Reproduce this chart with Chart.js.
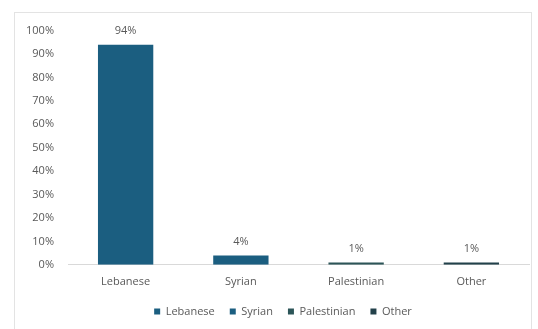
<!DOCTYPE html>
<html><head><meta charset="utf-8">
<script src="https://cdn.jsdelivr.net/npm/chart.js@4/dist/chart.umd.min.js"></script>
<style>
html,body{margin:0;padding:0;background:#fff;}
#frame{position:absolute;left:14px;top:12px;width:518px;height:320px;border:1px solid #e3e3e3;box-sizing:border-box;background:#fff;}
#wrap{position:absolute;left:0;top:-3px;width:516px;height:321px;}
</style></head>
<body>
<div id="frame"><div id="wrap"><canvas id="c"></canvas></div></div>
<script>
const categories = ["Lebanese","Syrian","Palestinian","Other"];
const values = [94, 4, 1, 1];
const yTicks = [0,10,20,30,40,50,60,70,80,90,100];
const colors = ["#1b5e80","#1b5e80","#2c5558","#22414a"];

const font = "'Open Sans', 'Noto Sans', sans-serif";

const labelPlugin = {
  id:'vlabels',
  afterLayout(chart){
    if (chart.legend){ chart.legend.left += 11; chart.legend.right += 11; }
  },
  afterDatasetsDraw(chart){
    const ctx = chart.ctx;
    const meta = chart.getDatasetMeta(0);
    ctx.save();
    ctx.font = "11px " + font;
    ctx.fillStyle = "#595959";
    ctx.textAlign = "center";
    ctx.textBaseline = "bottom";
    meta.data.forEach((bar,i)=>{
      ctx.fillText(values[i] + "%", bar.x, bar.y - 8);
    });
    ctx.restore();
  }
};

new Chart(document.getElementById('c'), {
  type:'bar',
  data:{
    labels: categories,
    datasets:[{
      data: values,
      backgroundColor: colors,
      barPercentage: 0.48,
      categoryPercentage: 1.0
    }]
  },
  options:{
    responsive:true,
    maintainAspectRatio:false,
    animation:false,
    layout:{padding:{top:3,right:2,left:0,bottom:4}},
    plugins:{
      tooltip:{enabled:false},
      legend:{
        position:'bottom',
        labels:{
          font:{family:font,size:11},
          color:'#595959',
          boxWidth:6,boxHeight:6,
          padding:15,
          generateLabels(chart){
            return categories.map((c,i)=>({text:c, fillStyle:colors[i], strokeStyle:colors[i], lineWidth:0, fontColor:'#595959', index:i}));
          }
        },
        onClick(){}
      }
    },
    scales:{
      x:{
        grid:{display:false, drawTicks:false},
        border:{display:true,color:'#d9d9d9'},
        ticks:{font:{family:font,size:11},color:'#595959',padding:10},
        afterFit(scale){ scale.height -= 7; }
      },
      y:{
        min:0,max:100,
        afterBuildTicks(scale){ scale.ticks = yTicks.map(v=>({value:v})); },
        afterFit(scale){ scale.width = 53; },
        grid:{display:false, drawTicks:false},
        border:{display:false},
        ticks:{font:{family:font,size:11},color:'#595959',padding:14,
          callback:(v)=>v+"%"}
      }
    }
  },
  plugins:[labelPlugin]
});
</script>
</body></html>
